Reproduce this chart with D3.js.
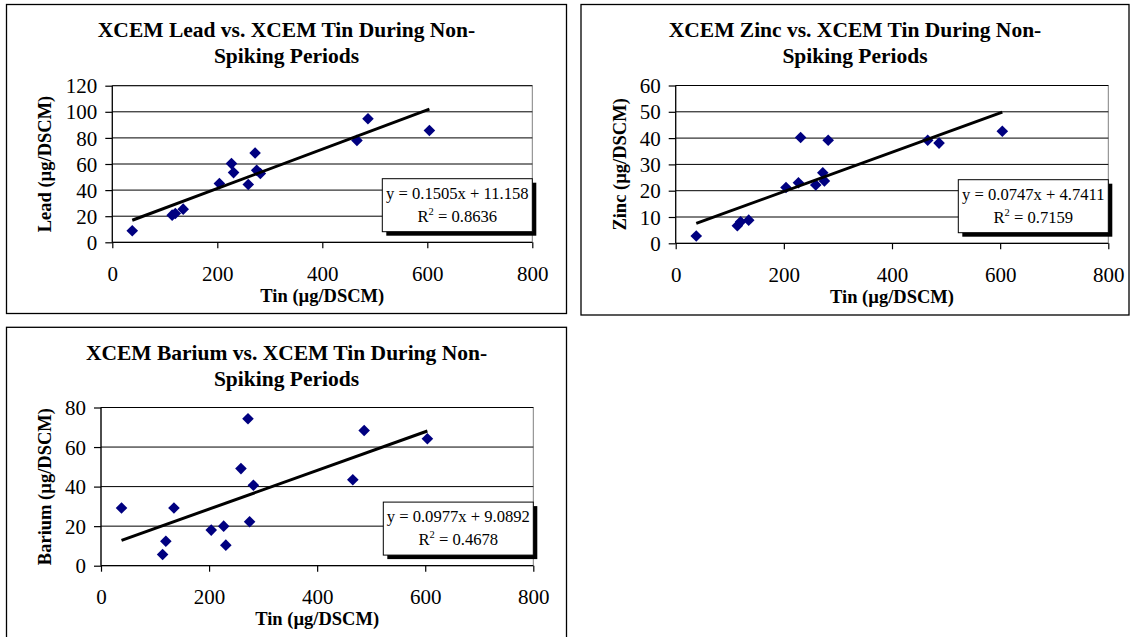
<!DOCTYPE html>
<html>
<head>
<meta charset="utf-8">
<script src="https://cdn.jsdelivr.net/npm/d3@7/dist/d3.min.js"></script>
<style>
  html, body { margin: 0; padding: 0; background: #fff; }
  svg { display: block; }
  text { font-family: "Liberation Serif", "Times New Roman", serif; fill: #000; }
</style>
</head>
<body>
<svg id="chart" width="1135" height="637"></svg>
<script>
// Tin concentration for each non-spiking sample (x values shared by all panels)
const tin = [38, 114, 120, 135, 204, 227, 231, 259, 272, 275, 282, 466, 487, 604];

// Metal concentrations for the same samples
const lead   = [8.9, 20.8, 22.1, 25.4, 45.0, 60.3, 53.4, 44.3, 68.4, 55.2, 52.7, 78.1, 94.7, 85.7];
const zinc   = [2.8, 6.7, 8.2, 8.8, 21.2, 23.0, 40.2, 22.2, 26.8, 23.7, 39.2, 39.2, 38.1, 42.6];
const barium = [29.2, 5.7, 12.4, 29.2, 18.0, 20.0, 10.4, 49.1, 74.3, 22.2, 40.7, 43.5, 68.4, 64.2];

// Linear trend line fits: [slope, intercept, R²]
const leadFit   = [0.1505, 11.158, 0.8636];
const zincFit   = [0.0747, 4.7411, 0.7159];
const bariumFit = [0.0977, 9.0892, 0.4678];

// Axis tick values
const tinTicks    = [0, 200, 400, 600, 800];
const leadTicks   = [0, 20, 40, 60, 80, 100, 120];
const zincTicks   = [0, 10, 20, 30, 40, 50, 60];
const bariumTicks = [0, 20, 40, 60, 80];

const svg = d3.select("#chart");

const panels = [
  { metal: "Lead",   values: lead,   fit: leadFit,   fitText: ["0.1505", "11.158", "0.8636"], ticks: leadTicks,
    box: { x: 6.5, y: 4.5, w: 560, h: 309 }, plot: { x0: 112.3, x1: 532.3, y0: 242.3, y1: 85.7 } },
  { metal: "Zinc",   values: zinc,   fit: zincFit,   fitText: ["0.0747", "4.7411", "0.7159"], ticks: zincTicks,
    box: { x: 581, y: 4.5, w: 548, h: 310.5 }, plot: { x0: 675.7, x1: 1108.3, y0: 243.3, y1: 85.5 } },
  { metal: "Barium", values: barium, fit: bariumFit, fitText: ["0.0977", "9.0892", "0.4678"], ticks: bariumTicks,
    box: { x: 6.5, y: 327.3, w: 560, h: 312 }, plot: { x0: 101, x1: 533.3, y0: 565.7, y1: 407.5 } }
];

panels.forEach(p => {
  const g = svg.append("g");
  const b = p.box;

  // Outer chart frame
  g.append("rect")
    .attr("x", b.x).attr("y", b.y).attr("width", b.w).attr("height", b.h)
    .attr("fill", "#fff").attr("stroke", "#000").attr("stroke-width", 1.3);

  const cx = b.x + b.w / 2;

  // Title (two lines)
  const title = g.append("text")
    .attr("text-anchor", "middle")
    .attr("font-weight", "bold")
    .attr("font-size", 21.5);
  title.append("tspan").attr("x", cx).attr("y", b.y + 32.2)
    .text(`XCEM ${p.metal} vs. XCEM Tin During Non-`);
  title.append("tspan").attr("x", cx).attr("y", b.y + 58.5)
    .text("Spiking Periods");

  const x = d3.scaleLinear().domain([0, 800]).range([p.plot.x0, p.plot.x1]);
  const yMax = p.ticks[p.ticks.length - 1];
  const y = d3.scaleLinear().domain([0, yMax]).range([p.plot.y0, p.plot.y1]);

  // Plot area border
  g.append("rect")
    .attr("x", p.plot.x0).attr("y", p.plot.y1)
    .attr("width", p.plot.x1 - p.plot.x0).attr("height", p.plot.y0 - p.plot.y1)
    .attr("fill", "none").attr("stroke", "#808080").attr("stroke-width", 1);

  // Horizontal gridlines
  g.append("g").selectAll("line")
    .data(p.ticks.filter(t => t > 0))
    .join("line")
    .attr("x1", p.plot.x0).attr("x2", p.plot.x1)
    .attr("y1", d => y(d)).attr("y2", d => y(d))
    .attr("stroke", "#000").attr("stroke-width", 1);

  // Y axis
  const yAxis = g.append("g")
    .attr("transform", `translate(${p.plot.x0},0)`)
    .call(d3.axisLeft(y).tickValues(p.ticks).tickSize(7).tickPadding(8).tickFormat(d3.format("d")));
  yAxis.select(".domain").attr("stroke", "#000").attr("stroke-width", 1.2).attr("d", `M0,${p.plot.y0}V${p.plot.y1}`);
  yAxis.selectAll(".tick line").attr("stroke", "#000").attr("stroke-width", 1.2);
  yAxis.selectAll(".tick text")
    .attr("font-family", "Liberation Serif, Times New Roman, serif")
    .attr("font-size", 21).attr("fill", "#000").attr("dy", "0.34em");

  // X axis
  const xAxis = g.append("g")
    .attr("transform", `translate(0,${p.plot.y0})`)
    .call(d3.axisBottom(x).tickValues(tinTicks).tickSize(6).tickPadding(17.5).tickFormat(d3.format("d")));
  xAxis.select(".domain").attr("stroke", "#000").attr("stroke-width", 1.2).attr("d", `M${p.plot.x0},0H${p.plot.x1}`);
  xAxis.selectAll(".tick line").attr("stroke", "#000").attr("stroke-width", 1.2);
  xAxis.selectAll(".tick text")
    .attr("font-family", "Liberation Serif, Times New Roman, serif")
    .attr("font-size", 21).attr("fill", "#000");

  // Axis titles
  g.append("text")
    .attr("x", (p.plot.x0 + p.plot.x1) / 2)
    .attr("y", p.plot.y0 + 59.5)
    .attr("text-anchor", "middle")
    .attr("font-weight", "bold").attr("font-size", 18.5)
    .text("Tin (µg/DSCM)");

  g.append("text")
    .attr("transform", `translate(${b.x + 44.5},${(p.plot.y0 + p.plot.y1) / 2}) rotate(-90)`)
    .attr("text-anchor", "middle")
    .attr("font-weight", "bold").attr("font-size", 18.5)
    .text(`${p.metal} (µg/DSCM)`);

  // Data points as navy diamonds
  const pts = tin.map((t, i) => [t, p.values[i]]);
  g.append("g").selectAll("path")
    .data(pts)
    .join("path")
    .attr("transform", d => `translate(${x(d[0])},${y(d[1])})`)
    .attr("d", "M0,-5.8L5.8,0L0,5.8L-5.8,0Z")
    .attr("fill", "#000080");

  // Linear trend line across the data range
  const [m, c] = p.fit;
  const xr = d3.extent(tin);
  g.append("line")
    .attr("x1", x(xr[0])).attr("y1", y(m * xr[0] + c))
    .attr("x2", x(xr[1])).attr("y2", y(m * xr[1] + c))
    .attr("stroke", "#000").attr("stroke-width", 3);

  // Equation label with drop shadow
  const bw = 150, bh = 53;
  const bx = p.plot.x1 - bw, by = p.plot.y0 - 63.6;
  g.append("rect").attr("x", bx + 4).attr("y", by + 4).attr("width", bw).attr("height", bh).attr("fill", "#000");
  g.append("rect").attr("x", bx).attr("y", by).attr("width", bw).attr("height", bh)
    .attr("fill", "#fff").attr("stroke", "#000").attr("stroke-width", 1);

  g.append("text")
    .attr("x", bx + bw / 2).attr("y", by + 19.8)
    .attr("text-anchor", "middle").attr("font-size", 16.6)
    .text(`y = ${p.fitText[0]}x + ${p.fitText[1]}`);

  const r2 = g.append("text")
    .attr("x", bx + bw / 2).attr("y", by + 43.2)
    .attr("text-anchor", "middle").attr("font-size", 16.6);
  r2.append("tspan").text("R");
  r2.append("tspan").attr("font-size", 10.5).attr("dy", -7).text("2");
  r2.append("tspan").attr("dy", 7).text(` = ${p.fitText[2]}`);
});
</script>
</body>
</html>
